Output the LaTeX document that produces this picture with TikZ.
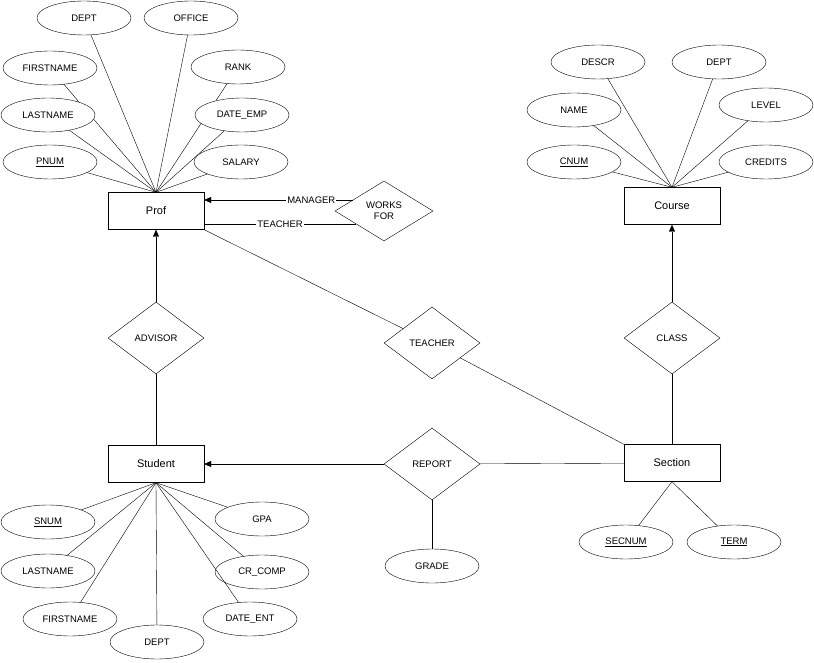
\documentclass[tikz,border=0pt]{standalone}
\usepackage{fontspec}
\setmainfont{Liberation Sans}
\usetikzlibrary{shapes.geometric,arrows.meta}
\begin{document}
\begin{tikzpicture}[x=1pt,y=-1pt,
  ent/.style={draw,minimum width=96pt,minimum height=37pt,inner sep=0pt,font=\fontsize{11}{12}\selectfont},
  rel/.style={draw,diamond,minimum width=96pt,minimum height=72pt,inner sep=0pt,aspect=1.33,font=\fontsize{9.5}{11}\selectfont,align=center},
  att/.style={draw,ellipse,minimum width=94pt,minimum height=34pt,inner sep=0pt,fill=white,font=\fontsize{9.5}{11}\selectfont},
  arr/.style={-{Triangle[length=7pt,width=6pt]}},
  lab/.style={fill=white,inner sep=1pt,font=\fontsize{9.5}{11}\selectfont}]
\useasboundingbox (0,0) rectangle (814,663);
\node[ent] (prof) at (156,211) {Prof};
\node[ent] (student) at (156,464) {Student};
\node[ent] (course) at (672,206) {Course};
\node[ent] (section) at (672,463) {Section};
\node[rel,minimum width=98pt,minimum height=60pt] (wf) at (384,211) {WORKS\\FOR};
\node[rel] (advisor) at (156,338) {ADVISOR};
\node[rel] (teacher) at (432,343) {TEACHER};
\node[rel] (class) at (672,338) {CLASS};
\node[rel] (report) at (432,464) {REPORT};
% prof attributes
\coordinate (pt) at (prof.north);
\foreach \n/\x/\y/\t in {a1/84/18/DEPT,a2/191/18/OFFICE,a3/50/68/FIRSTNAME,a4/238/67/RANK,a5/48/115/LASTNAME,a6/242/115/DATE\_EMP,a7/50/162/\underline{PNUM},a8/241/162/SALARY}
  {\draw (pt) -- (\x,\y); \node[att] (\n) at (\x,\y) {\t};}
\coordinate (ct) at (course.north);
\foreach \n/\x/\y/\t in {c1/598/62/DESCR,c2/719/62/DEPT,c3/574/110/NAME,c4/766/105/LEVEL,c5/574/162/\underline{CNUM},c6/766/162/CREDITS}
  {\draw (ct) -- (\x,\y); \node[att] (\n) at (\x,\y) {\t};}
\coordinate (sb) at (student.south);
\foreach \n/\x/\y/\t in {s1/48/522/\underline{SNUM},s2/262/519/GPA,s3/48/571/LASTNAME,s4/262/572/CR\_COMP,s5/70/619/FIRSTNAME,s6/157/642/DEPT,s7/250/619/DATE\_ENT}
  {\draw (sb) -- (\x,\y); \node[att] (\n) at (\x,\y) {\t};}
\coordinate (secb) at (section.south);
\foreach \n/\x/\y/\t in {e1/626/542/\underline{SECNUM},e2/734/542/\underline{TERM}}
  {\draw (secb) -- (\x,\y); \node[att] (\n) at (\x,\y) {\t};}
\node[att] (grade) at (432,566) {GRADE};
\draw (report) -- (grade);
% relationships
\coordinate (mL) at (353,200);
\coordinate (tL) at (356,224);
\draw[arr] (mL) -- node[lab,pos=0.28]{MANAGER} (prof.east |- mL);
\draw (tL) -- node[lab,pos=0.5]{TEACHER} (prof.east |- tL);
\draw[arr] (advisor) -- (prof);
\draw (advisor) -- (student);
\draw (prof.south east) -- (teacher);
\draw (teacher) -- (section.north west);
\draw[arr] (class) -- (course);
\draw (class) -- (section);
\draw[arr] (report) -- (student);
\draw (report) -- (section);
\end{tikzpicture}
\end{document}
